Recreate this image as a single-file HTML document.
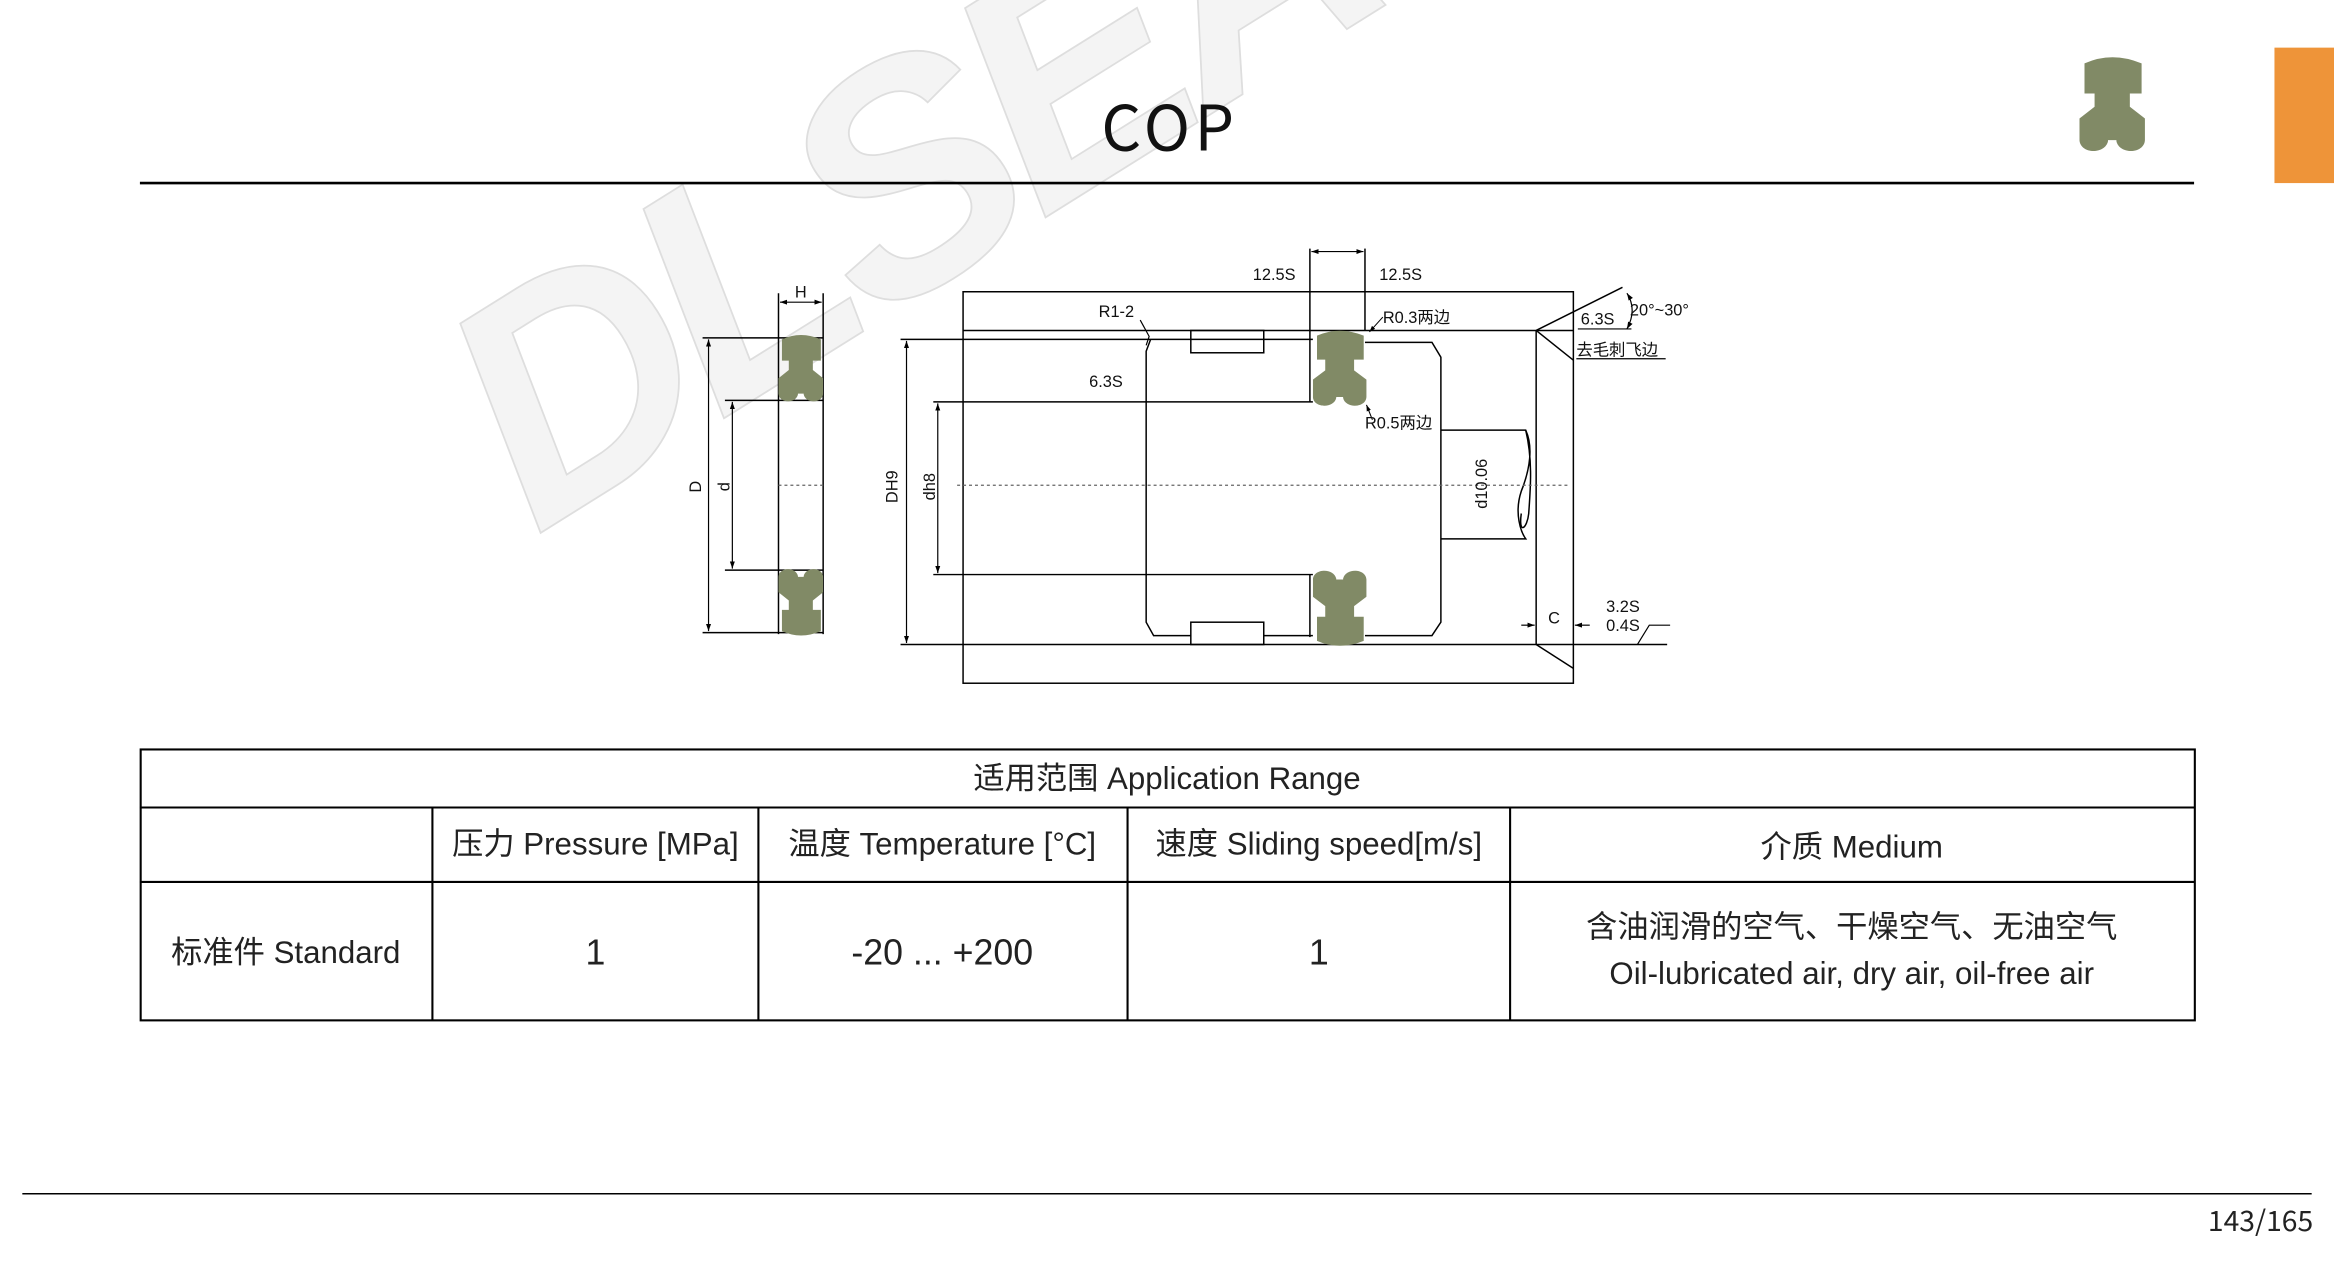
<!DOCTYPE html>
<html><head><meta charset="utf-8"><style>
html,body{margin:0;padding:0;background:#fff;}
svg{display:block;}
text{font-family:"Liberation Sans","Noto Sans CJK SC",sans-serif;}
.t{font-family:"Noto Sans CJK SC","Liberation Sans",sans-serif;}
</style></head><body>
<svg width="2334" height="1288" viewBox="0 0 1568 865.3" preserveAspectRatio="none" xmlns="http://www.w3.org/2000/svg">
<defs>
<symbol id="seal" viewBox="0 0 195 290" preserveAspectRatio="none">
<path d="M15,25 Q97,-12 185,25 L185,115 L150,115 L150,155 L195,190 L195,255 C192,298 118,298 110,258 L110,255 L85,255 L85,258 C77,298 3,298 0,255 L0,190 L45,155 L45,115 L15,115 Z" fill="#818a66"/>
</symbol>
<marker id="ar" viewBox="0 0 10 10" refX="10" refY="5" markerWidth="6" markerHeight="6" orient="auto-start-reverse"><path d="M0,1.5 L10,5 L0,8.5 Z" fill="#000"/></marker>
</defs>

<!-- watermark -->
<g transform="translate(360,360) rotate(-32)">
<text x="0" y="0" font-size="215" font-weight="bold" font-style="italic" fill="#f4f4f4" stroke="#dedede" stroke-width="1.2" letter-spacing="-10">DLSEAL</text>
</g>

<!-- header -->
<text x="786" y="101" font-size="42" text-anchor="middle" class="t" fill="#111" letter-spacing="3">COP</text>
<line x1="94" y1="123" x2="1474" y2="123" stroke="#000" stroke-width="1.8"/>
<use href="#seal" x="1397" y="37" width="44" height="65"/>
<rect x="1528" y="32" width="40" height="91" fill="#ee9439"/>

<!-- drawing -->
<g stroke="#000" stroke-width="1" fill="none">
<line x1="523" y1="197" x2="523" y2="426"/>
<line x1="553" y1="197" x2="553" y2="426"/>
<line x1="472" y1="227" x2="553" y2="227"/>
<line x1="487" y1="269" x2="553" y2="269"/>
<line x1="487" y1="383" x2="553" y2="383"/>
<line x1="472" y1="425" x2="553" y2="425"/>
<line x1="476" y1="228" x2="476" y2="424" marker-start="url(#ar)" marker-end="url(#ar)" stroke-width="0.8"/>
<line x1="492" y1="270" x2="492" y2="382" marker-start="url(#ar)" marker-end="url(#ar)" stroke-width="0.8"/>
<line x1="524" y1="203" x2="552" y2="203" marker-start="url(#ar)" marker-end="url(#ar)" stroke-width="0.8"/>
<line x1="523" y1="326" x2="553" y2="326" stroke="#666" stroke-dasharray="2,2" stroke-width="0.8"/>

<rect x="647" y="196" width="410" height="263"/>
<line x1="647" y1="222" x2="1057" y2="222"/>
<line x1="605" y1="433" x2="1120" y2="433"/>
<line x1="605" y1="228" x2="882" y2="228"/>
<line x1="609" y1="229" x2="609" y2="432" marker-start="url(#ar)" marker-end="url(#ar)" stroke-width="0.8"/>
<line x1="627" y1="270" x2="882" y2="270"/>
<line x1="627" y1="386" x2="882" y2="386"/>
<line x1="630" y1="271" x2="630" y2="385" marker-start="url(#ar)" marker-end="url(#ar)" stroke-width="0.8"/>
<line x1="880" y1="167" x2="880" y2="270"/>
<line x1="917" y1="167" x2="917" y2="222"/>
<line x1="881" y1="169" x2="916" y2="169" marker-start="url(#ar)" marker-end="url(#ar)" stroke-width="0.8"/>
<line x1="880" y1="386" x2="880" y2="428"/>
<path d="M773,228 L770,236 L770,418 L775,427 L800,427"/>
<rect x="800" y="222" width="49" height="15"/>
<rect x="800" y="418" width="49" height="15"/>
<line x1="849" y1="427" x2="882" y2="427"/>
<path d="M917,230 L962,230 L968,240 L968,418 L962,427 L917,427"/>
<path d="M968,289 L1025,289 C1030,300 1028,315 1022,330 C1017,345 1022,358 1025,362 L968,362"/>
<path d="M1025,289 C1030,310 1028,330 1027,345 C1026,355 1020,360 1022,345"/>
<line x1="1032" y1="222" x2="1032" y2="433"/>
<line x1="1032" y1="222" x2="1090" y2="193"/>
<line x1="1032" y1="222" x2="1057" y2="242"/>
<line x1="1032" y1="433" x2="1057" y2="449"/>
<line x1="1059" y1="241" x2="1119" y2="241" stroke-width="0.8"/>
<line x1="1060" y1="221" x2="1096" y2="221" stroke-width="0.8"/>
<path d="M1093,197 Q1100,208 1093,221" marker-start="url(#ar)" marker-end="url(#ar)" stroke-width="0.8"/>
<line x1="1022" y1="420" x2="1031" y2="420" marker-end="url(#ar)" stroke-width="0.8"/>
<line x1="1068" y1="420" x2="1058" y2="420" marker-end="url(#ar)" stroke-width="0.8"/>
<path d="M1100,433 L1108,420 L1122,420" stroke-width="0.8"/>
<path d="M766,215 L772,226 L770,232" stroke-width="0.8"/>
<line x1="929" y1="213" x2="920" y2="223" marker-end="url(#ar)" stroke-width="0.7"/>
<line x1="922" y1="282" x2="918" y2="272" marker-end="url(#ar)" stroke-width="0.7"/>
<line x1="643" y1="326" x2="1055" y2="326" stroke="#666" stroke-dasharray="2,2" stroke-width="0.8"/>
</g>

<use href="#seal" x="523" y="224" width="30" height="46"/>
<g transform="translate(0,810) scale(1,-1)"><use href="#seal" x="523" y="382" width="30" height="46"/></g>
<use href="#seal" x="882" y="221" width="36" height="52"/>
<g transform="translate(0,819) scale(1,-1)"><use href="#seal" x="882" y="384" width="36" height="52"/></g>

<g font-size="11" fill="#111" class="t">
<text x="538" y="200" text-anchor="middle">H</text>
<text transform="translate(471,327) rotate(-90)" text-anchor="middle">D</text>
<text transform="translate(490,327) rotate(-90)" text-anchor="middle">d</text>
<text transform="translate(603,327) rotate(-90)" text-anchor="middle">DH9</text>
<text transform="translate(628,327) rotate(-90)" text-anchor="middle">dh8</text>
<text transform="translate(999,325) rotate(-90)" text-anchor="middle">d10.06</text>
<text x="856" y="188" text-anchor="middle">12.5S</text>
<text x="941" y="188" text-anchor="middle">12.5S</text>
<text x="750" y="213" text-anchor="middle">R1-2</text>
<text x="743" y="260" text-anchor="middle">6.3S</text>
<text x="929" y="217">R0.3两边</text>
<text x="917" y="288">R0.5两边</text>
<text x="1062" y="218">6.3S</text>
<text x="1095" y="212">20°~30°</text>
<text x="1059" y="239">去毛刺飞边</text>
<text x="1044" y="419" text-anchor="middle">C</text>
<text x="1079" y="411">3.2S</text>
<text x="1079" y="424">0.4S</text>
</g>

<g stroke="#000" stroke-width="1.4" fill="none">
<rect x="94.5" y="503.5" width="1380" height="182"/>
<line x1="94" y1="542.5" x2="1474" y2="542.5"/>
<line x1="94" y1="592.5" x2="1474" y2="592.5"/>
<line x1="290.5" y1="542" x2="290.5" y2="685"/>
<line x1="509.5" y1="542" x2="509.5" y2="685"/>
<line x1="757.5" y1="542" x2="757.5" y2="685"/>
<line x1="1014.5" y1="542" x2="1014.5" y2="685"/>
</g>
<g class="t" font-size="21" fill="#222" text-anchor="middle">
<text x="784" y="530">适用范围 Application Range</text>
<text x="400" y="574">压力 Pressure [MPa]</text>
<text x="633" y="574">温度 Temperature [°C]</text>
<text x="886" y="574">速度 Sliding speed[m/s]</text>
<text x="1244" y="576">介质 Medium</text>
<text x="192" y="647">标准件 Standard</text>
<text x="400" y="648" font-size="24">1</text>
<text x="633" y="648" font-size="24">-20 ... +200</text>
<text x="886" y="648" font-size="24">1</text>
<text x="1244" y="630">含油润滑的空气、干燥空气、无油空气</text>
<text x="1244" y="661">Oil-lubricated air, dry air, oil-free air</text>
</g>

<line x1="15" y1="802" x2="1553" y2="802" stroke="#000" stroke-width="1"/>
<text x="1554" y="827" font-size="19" text-anchor="end" class="t" fill="#222">143/165</text>
</svg>
</body></html>
